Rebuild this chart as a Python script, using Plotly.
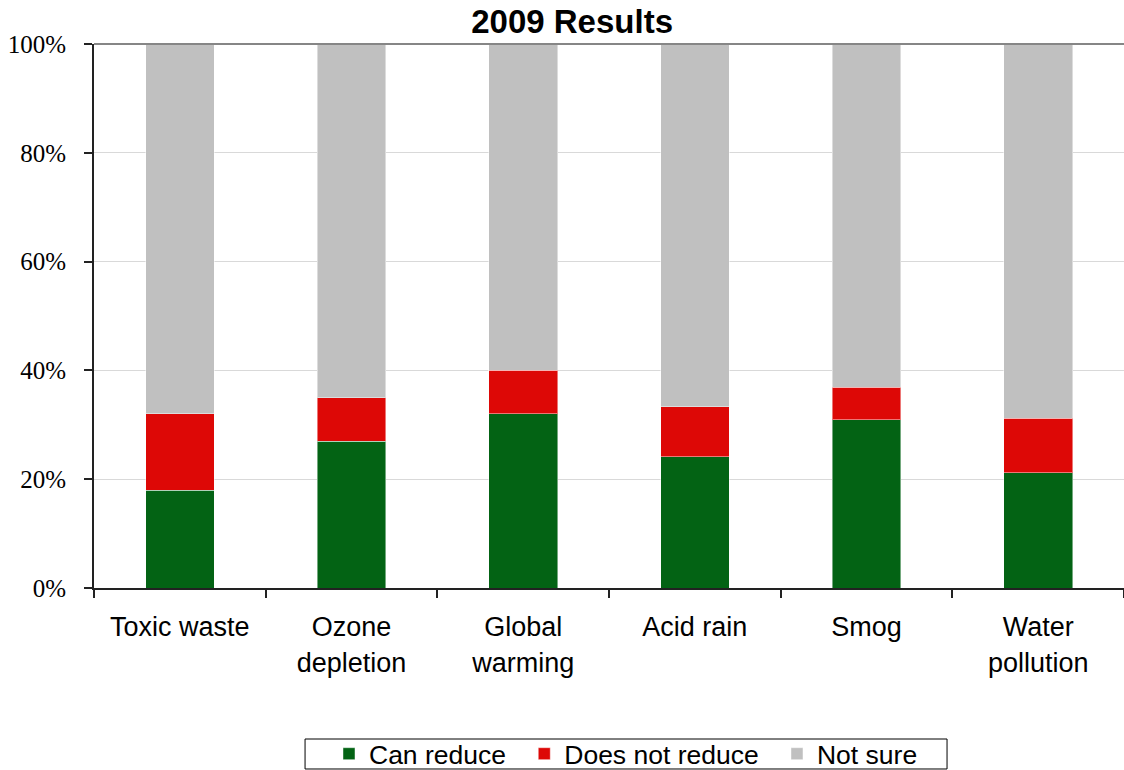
import plotly.graph_objects as go

categories = ["Toxic waste", "Ozone<br>depletion", "Global<br>warming", "Acid rain", "Smog", "Water<br>pollution"]
can_reduce = [18, 27, 32, 24.1, 30.9, 21.2]
does_not_reduce = [14, 8, 8, 9.2, 6, 10.05]
not_sure = [68, 65, 60, 66.7, 63.1, 68.75]
series_names = ["Can reduce\u2002", "Does not reduce\u2002", "Not sure"]
series_colors = ["#036314", "#DD0806", "#C0C0C0"]
y_ticks = [0, 20, 40, 60, 80, 100]

W, H = 1124, 770

fig = go.Figure()
for name, vals, col in zip(series_names, [can_reduce, does_not_reduce, not_sure], series_colors):
    fig.add_trace(go.Bar(
        x=categories, y=vals, name=name, width=0.4,
        marker=dict(color=col, line=dict(color="rgba(255,255,255,0.45)", width=1)),
    ))

fig.update_layout(
    barmode="stack",
    width=W, height=H,
    margin=dict(l=94, r=0, t=44, b=182, autoexpand=False),
    paper_bgcolor="white", plot_bgcolor="white",
    title=dict(text="<b>2009 Results</b>", x=0.509, xanchor="center", y=1 - 21.5 / H, yanchor="middle",
               font=dict(family="Liberation Sans, Arial", size=33, color="black")),
    font=dict(family="Liberation Sans, Arial", color="black"),
    showlegend=True,
    legend=dict(orientation="h", x=0.5165, xanchor="center", y=-0.3051, yanchor="middle",
                borderwidth=0, bgcolor="rgba(0,0,0,0)",
                font=dict(family="Liberation Sans, Arial", size=26.5, color="black"),
                traceorder="normal"),
    bargap=0.6,
)
fig.update_xaxes(
    type="category", range=[-0.5, 5.5], automargin=False,
    showline=True, linecolor="#222", linewidth=2,
    ticks="outside", tickson="boundaries", ticklen=8, tickcolor="#222", tickwidth=1.5,
    ticklabelstandoff=14,
    tickfont=dict(family="Liberation Sans, Arial", size=27, color="black"),
    showgrid=False,
)
fig.update_yaxes(
    range=[0, 100], tickvals=y_ticks, ticktext=[f"{v}%" for v in y_ticks], automargin=False,
    showline=True, linecolor="#222", linewidth=2,
    ticks="outside", ticklen=8, tickcolor="#222", tickwidth=1.5,
    ticklabelstandoff=13,
    tickfont=dict(family="Liberation Serif, Times New Roman", size=25, color="black"),
    showgrid=True, gridcolor="#D9D9D9", gridwidth=1, zeroline=False,
)
# top frame line of the plot area
fig.add_shape(type="line", xref="paper", yref="paper", x0=0, x1=1, y0=1, y1=1,
              line=dict(color="#868686", width=2))
# legend frame
fig.add_shape(type="rect", xref="paper", yref="paper", x0=0.2049, x1=0.8282, y0=-0.2776, y1=-0.3327,
              line=dict(color="black", width=1), fillcolor="rgba(0,0,0,0)", layer="below")

fig.write_html("out.html", config={"displayModeBar": False},
               post_script="document.body.style.margin='0px';")
